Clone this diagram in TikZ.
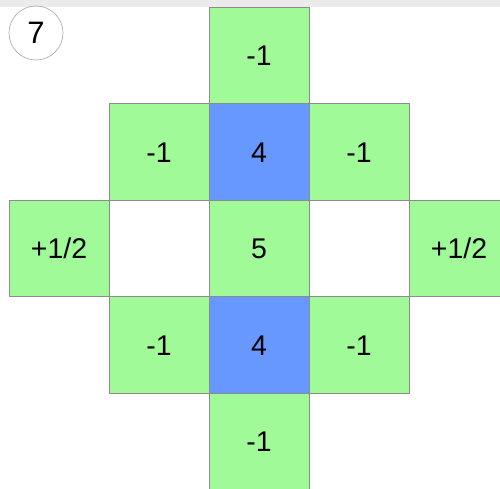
\documentclass[tikz,border=0pt]{standalone}
\usepackage{fontspec}
\setmainfont{Liberation Sans}
\definecolor{cellgreen}{HTML}{A0FA98}
\definecolor{cellblue}{HTML}{6698FF}
\definecolor{cellline}{HTML}{8C8C8C}
\definecolor{topbar}{HTML}{EBEBEB}
\begin{document}
\begin{tikzpicture}[x=1pt,y=1pt,
  cell/.style={draw=cellline, line width=1pt, minimum width=100pt, minimum height=96.5pt, inner sep=0pt, font=\fontsize{28.5}{30}\selectfont, text=black},
  gcell/.style={cell, fill=cellgreen},
  bcell/.style={cell, fill=cellblue},
  wcell/.style={cell, fill=white},
  badge/.style={circle, draw=gray!70, line width=0.6pt, minimum size=54pt, inner sep=0pt, font=\fontsize{31}{33}\selectfont}]
\useasboundingbox (0,0) rectangle (500,489);
\clip (0,0) rectangle (500,489);
\fill[topbar] (0,482) rectangle (500,489);
% row centres (tikz y): 433.25, 336.75, 240.25, 143.75, 47.25
\node[gcell] (t)  at (259,433.25) {-1};
\node[gcell] (ul) at (159,336.75) {-1};
\node[bcell] (uc) at (259,336.75) {4};
\node[gcell] (ur) at (359,336.75) {-1};
\node[gcell] (ml) at (59,240.25) {+1/2};
\node[wcell] (mlw) at (159,240.25) {};
\node[gcell] (mc) at (259,240.25) {5};
\node[wcell] (mrw) at (359,240.25) {};
\node[gcell] (mr) at (459,240.25) {+1/2};
\node[gcell] (ll) at (159,143.75) {-1};
\node[bcell] (lc) at (259,143.75) {4};
\node[gcell] (lr) at (359,143.75) {-1};
\node[gcell] (b)  at (259,47.25) {-1};
\node[badge] (n7) at (36,456) {7};
\end{tikzpicture}
\end{document}
